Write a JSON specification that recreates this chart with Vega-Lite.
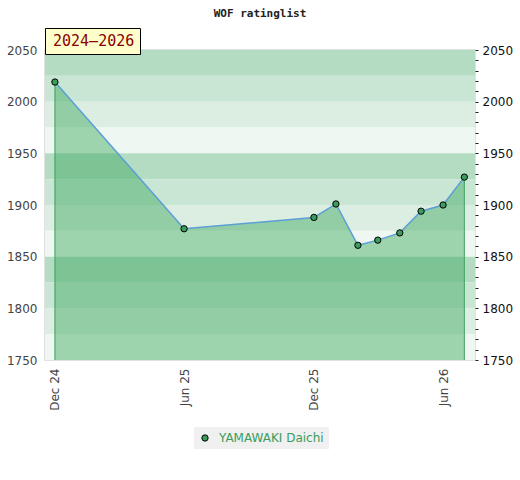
{
  "$schema": "https://vega.github.io/schema/vega-lite/v6.json",
  "autosize": "none",
  "padding": {"left": 45, "top": 50, "right": 45, "bottom": 120},
  "width": 430,
  "height": 310,
  "background": "white",
  "title": {
    "text": "WOF ratinglist",
    "font": "DejaVu Sans Mono",
    "fontSize": 11,
    "fontWeight": "bold",
    "color": "#222222",
    "anchor": "middle",
    "frame": "group",
    "baseline": "bottom",
    "offset": -2
  },
  "datasets": {
    "ratings": [
      {"date": "2024-12-01", "rating": 2019, "player": "YAMAWAKI Daichi"},
      {"date": "2025-06-01", "rating": 1877, "player": "YAMAWAKI Daichi"},
      {"date": "2025-12-01", "rating": 1888, "player": "YAMAWAKI Daichi"},
      {"date": "2026-01-01", "rating": 1901, "player": "YAMAWAKI Daichi"},
      {"date": "2026-02-01", "rating": 1861, "player": "YAMAWAKI Daichi"},
      {"date": "2026-03-01", "rating": 1866, "player": "YAMAWAKI Daichi"},
      {"date": "2026-04-01", "rating": 1873, "player": "YAMAWAKI Daichi"},
      {"date": "2026-05-01", "rating": 1894, "player": "YAMAWAKI Daichi"},
      {"date": "2026-06-01", "rating": 1900, "player": "YAMAWAKI Daichi"},
      {"date": "2026-07-01", "rating": 1927, "player": "YAMAWAKI Daichi"}
    ],
    "bands": [
      {"lo": 2025, "hi": 2050, "tier": "a"},
      {"lo": 2000, "hi": 2025, "tier": "b"},
      {"lo": 1975, "hi": 2000, "tier": "c"},
      {"lo": 1950, "hi": 1975, "tier": "d"},
      {"lo": 1925, "hi": 1950, "tier": "a"},
      {"lo": 1900, "hi": 1925, "tier": "b"},
      {"lo": 1875, "hi": 1900, "tier": "c"},
      {"lo": 1850, "hi": 1875, "tier": "d"},
      {"lo": 1825, "hi": 1850, "tier": "a"},
      {"lo": 1800, "hi": 1825, "tier": "b"},
      {"lo": 1775, "hi": 1800, "tier": "c"},
      {"lo": 1750, "hi": 1775, "tier": "d"}
    ]
  },
  "layer": [
    {
      "data": {"name": "bands"},
      "mark": "rect",
      "encoding": {
        "y": {
          "field": "lo",
          "type": "quantitative",
          "scale": {"domain": [1750, 2050], "nice": false, "zero": false},
          "axis": {
            "orient": "left",
            "title": null,
            "values": [1750, 1800, 1850, 1900, 1950, 2000, 2050],
            "format": "d",
            "domain": false,
            "ticks": false,
            "grid": false,
            "labelPadding": 8,
            "labelColor": "#444444"
          }
        },
        "y2": {"field": "hi"},
        "color": {
          "field": "tier",
          "type": "nominal",
          "scale": {"domain": ["a", "b", "c", "d"], "range": ["#b3dcc2", "#c8e6d3", "#dcede2", "#eef7f1"]},
          "legend": null
        }
      }
    },
    {
      "data": {"name": "ratings"},
      "mark": {"type": "area", "color": "#3aa65c", "opacity": 0.45},
      "encoding": {
        "x": {
          "field": "date",
          "type": "temporal",
          "scale": {
            "type": "utc",
            "domain": [
              {"year": 2024, "month": 11, "date": 17, "utc": true},
              {"year": 2026, "month": 7, "date": 16, "utc": true}
            ]
          },
          "axis": {
            "title": null,
            "values": [
              {"year": 2024, "month": 12, "date": 1, "utc": true},
              {"year": 2025, "month": 6, "date": 1, "utc": true},
              {"year": 2025, "month": 12, "date": 1, "utc": true},
              {"year": 2026, "month": 6, "date": 1, "utc": true}
            ],
            "format": "%b %y",
            "labelAngle": 270,
            "labelPadding": 8,
            "labelColor": "#444444",
            "domain": false,
            "ticks": false,
            "grid": false
          }
        },
        "y": {
          "field": "rating",
          "type": "quantitative",
          "axis": {
            "orient": "right",
            "title": null,
            "values": [1750, 1760, 1770, 1780, 1790, 1800, 1810, 1820, 1830, 1840, 1850, 1860, 1870, 1880, 1890, 1900, 1910, 1920, 1930, 1940, 1950, 1960, 1970, 1980, 1990, 2000, 2010, 2020, 2030, 2040, 2050],
            "format": "d",
            "labelExpr": "datum.value % 50 == 0 ? datum.label : ''",
            "domain": false,
            "ticks": true,
            "tickSize": 3,
            "tickColor": "#222222",
            "grid": false,
            "labelPadding": 4,
            "labelColor": "#111111"
          }
        },
        "y2": {"datum": 1750}
      }
    },
    {
      "data": {"name": "ratings"},
      "transform": [
        {"window": [{"op": "row_number", "as": "i"}], "sort": [{"field": "date"}]},
        {"joinaggregate": [{"op": "count", "as": "n"}]},
        {"filter": "datum.i == 1 || datum.i == datum.n"}
      ],
      "mark": {"type": "rule", "color": "#3a9d5d", "strokeWidth": 1},
      "encoding": {
        "x": {"field": "date", "type": "temporal"},
        "y": {"field": "rating", "type": "quantitative", "axis": null},
        "y2": {"datum": 1750},
        "strokeDash": {
          "datum": "2024–2026",
          "scale": {"range": [[1, 0]]},
          "legend": {
            "title": null,
            "orient": "none",
            "legendX": 0,
            "legendY": -22,
            "fillColor": "#ffffcc",
            "strokeColor": "#000000",
            "padding": 5,
            "symbolType": "circle",
            "symbolSize": 0,
            "symbolStrokeWidth": 0,
            "symbolOpacity": 0,
            "labelOffset": -12,
            "labelFontSize": 15,
            "labelColor": "#8b0000",
            "labelFont": "DejaVu Sans Mono"
          }
        }
      }
    },
    {
      "data": {"name": "ratings"},
      "mark": {"type": "line", "color": "#5b9fd6", "strokeWidth": 1.5},
      "encoding": {
        "x": {"field": "date", "type": "temporal"},
        "y": {"field": "rating", "type": "quantitative", "axis": null}
      }
    },
    {
      "data": {"name": "ratings"},
      "mark": {"type": "point", "filled": true, "stroke": "#000000", "strokeWidth": 1, "size": 40, "opacity": 1},
      "encoding": {
        "x": {"field": "date", "type": "temporal"},
        "y": {"field": "rating", "type": "quantitative", "axis": null},
        "fill": {
          "field": "player",
          "type": "nominal",
          "scale": {"range": ["#3a9d5d"]},
          "legend": {
            "title": null,
            "orient": "none",
            "legendX": 149,
            "legendY": 377,
            "fillColor": "#f0f0f0",
            "padding": 5,
            "symbolType": "circle",
            "symbolSize": 40,
            "symbolStrokeColor": "#000000",
            "symbolStrokeWidth": 1,
            "labelOffset": 8,
            "labelFontSize": 12,
            "labelColor": "#3a9d5d",
            "labelFont": "DejaVu Sans"
          }
        }
      }
    }
  ],
  "resolve": {"axis": {"y": "independent"}},
  "config": {
    "font": "DejaVu Sans",
    "view": {"stroke": "#d8d8d8", "strokeWidth": 1.5},
    "axis": {"labelFont": "DejaVu Sans", "labelFontSize": 12}
  }
}
